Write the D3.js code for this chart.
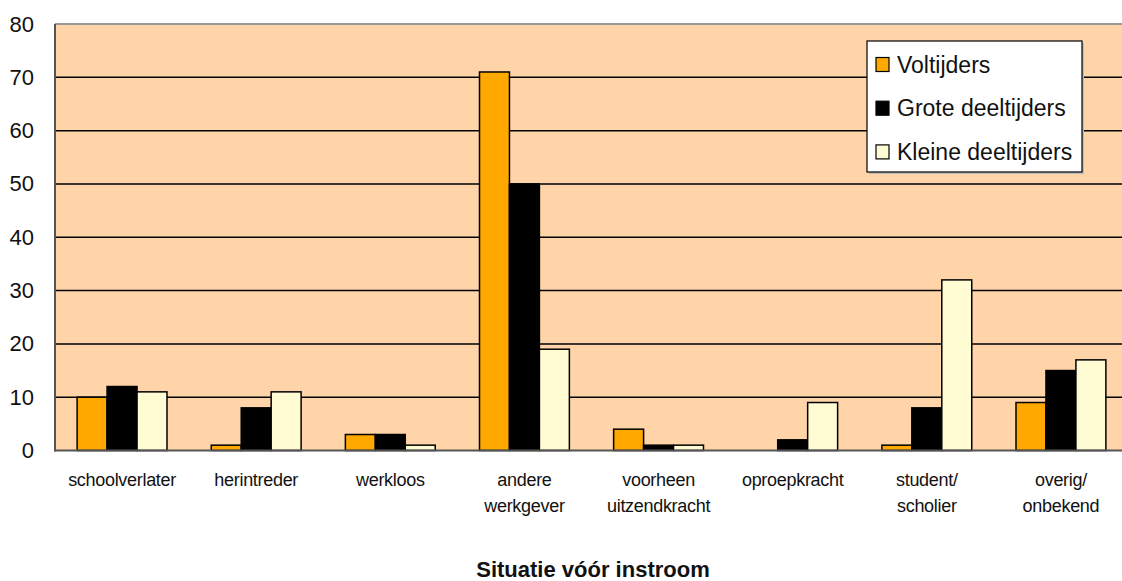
<!DOCTYPE html>
<html>
<head>
<meta charset="utf-8">
<title>Situatie vóór instroom</title>
<style>
  body { margin: 0; background: #fff; }
  text { font-family: "Liberation Sans", Arial, sans-serif; fill: #111; }
  .tick text { font-size: 22px; }
  .cat { font-size: 18px; letter-spacing: -0.3px; }
  .legend text { font-size: 23px; }
  .title { font-size: 22px; font-weight: bold; }
</style>
</head>
<body>
<svg width="1122" height="581"></svg>
<script src="https://cdnjs.cloudflare.com/ajax/libs/d3/7.8.5/d3.min.js"></script>
<script>
var categories = [
  ['schoolverlater'],
  ['herintreder'],
  ['werkloos'],
  ['andere', 'werkgever'],
  ['voorheen', 'uitzendkracht'],
  ['oproepkracht'],
  ['student/', 'scholier'],
  ['overig/', 'onbekend']
];
var seriesNames = ['Voltijders', 'Grote deeltijders', 'Kleine deeltijders'];
var seriesColors = ['#ffa800', '#000000', '#fffcd4'];
var voltijders = [10, 1, 3, 71, 4, 0, 1, 9];
var groteDeeltijders = [12, 8, 3, 50, 1, 2, 8, 15];
var kleineDeeltijders = [11, 11, 1, 19, 1, 9, 32, 17];
var yTicks = [0, 10, 20, 30, 40, 50, 60, 70, 80];
var xTitle = 'Situatie vóór instroom';

var series = [voltijders, groteDeeltijders, kleineDeeltijders];

var svg = d3.select('svg');
var plotLeft = 55, plotRight = 1128, plotTop = 24, plotBottom = 450.5;

var x0 = d3.scaleBand()
  .domain(d3.range(categories.length))
  .range([plotLeft, plotRight])
  .paddingInner(0.33)
  .paddingOuter(0.165);
var x1 = d3.scaleBand()
  .domain(d3.range(series.length))
  .range([0, x0.bandwidth()]);
var y = d3.scaleLinear().domain([0, 80]).range([plotBottom, plotTop]);

// plot background
svg.append('rect')
  .attr('x', plotLeft).attr('y', plotTop)
  .attr('width', plotRight - plotLeft).attr('height', plotBottom - plotTop)
  .attr('fill', '#ffd4a8');

// gridlines
svg.append('g')
  .selectAll('line')
  .data(yTicks.filter(function(d) { return d > 0 && d < 80; }))
  .join('line')
    .attr('x1', plotLeft).attr('x2', plotRight)
    .attr('y1', function(d) { return y(d); })
    .attr('y2', function(d) { return y(d); })
    .attr('stroke', '#000')
    .attr('stroke-width', 1.5);

// top border
svg.append('line')
  .attr('x1', plotLeft).attr('x2', plotRight)
  .attr('y1', plotTop).attr('y2', plotTop)
  .attr('stroke', '#999').attr('stroke-width', 2);

// bars
var groups = svg.append('g')
  .selectAll('g')
  .data(categories.map(function(c, i) { return i; }))
  .join('g')
    .attr('transform', function(i) { return 'translate(' + x0(i) + ',0)'; });

groups.selectAll('rect')
  .data(function(i) { return series.map(function(s, k) { return { k: k, v: s[i] }; }); })
  .join('rect')
    .attr('x', function(d) { return x1(d.k); })
    .attr('y', function(d) { return y(d.v); })
    .attr('width', x1.bandwidth())
    .attr('height', function(d) { return plotBottom - y(d.v); })
    .attr('fill', function(d) { return seriesColors[d.k]; })
    .attr('stroke', '#000')
    .attr('stroke-width', function(d) { return d.v > 0 ? 1.5 : 0; });

// axes lines
svg.append('line')
  .attr('x1', plotLeft).attr('x2', plotRight)
  .attr('y1', plotBottom).attr('y2', plotBottom)
  .attr('stroke', '#555').attr('stroke-width', 2);
svg.append('line')
  .attr('x1', plotLeft).attr('x2', plotLeft)
  .attr('y1', plotTop).attr('y2', plotBottom + 1)
  .attr('stroke', '#555').attr('stroke-width', 2);

// y axis labels
var yAxis = svg.append('g')
  .attr('transform', 'translate(' + plotLeft + ',0)')
  .call(d3.axisLeft(y).tickValues(yTicks).tickSize(0).tickPadding(21));
yAxis.select('.domain').remove();
yAxis.selectAll('text').attr('fill', '#111');

// category labels
var cat = svg.append('g')
  .selectAll('text')
  .data(categories)
  .join('text')
    .attr('class', 'cat')
    .attr('text-anchor', 'middle')
    .attr('x', function(d, i) { return x0(i) + x0.bandwidth() / 2; })
    .attr('y', 486);
cat.selectAll('tspan')
  .data(function(d) { return d; })
  .join('tspan')
    .attr('x', function() { return d3.select(this.parentNode).attr('x'); })
    .attr('dy', function(d, i) { return i === 0 ? 0 : 26; })
    .text(function(d) { return d; });

// x title
svg.append('text')
  .attr('class', 'title')
  .attr('text-anchor', 'middle')
  .attr('x', 593)
  .attr('y', 577)
  .text(xTitle);

// legend
var legend = svg.append('g').attr('class', 'legend');
legend.append('rect')
  .attr('x', 869).attr('y', 43)
  .attr('width', 215).attr('height', 131)
  .attr('fill', '#bbb');
legend.append('rect')
  .attr('x', 867).attr('y', 41)
  .attr('width', 215).attr('height', 131)
  .attr('fill', '#fff')
  .attr('stroke', '#000')
  .attr('stroke-width', 1.2);
var items = legend.selectAll('g.item')
  .data(seriesNames)
  .join('g')
    .attr('class', 'item')
    .attr('transform', function(d, i) { return 'translate(876,' + (64.5 + i * 43.7) + ')'; });
items.append('rect')
  .attr('x', 0).attr('y', -7)
  .attr('width', 13).attr('height', 14)
  .attr('fill', function(d, i) { return seriesColors[i]; })
  .attr('stroke', '#000')
  .attr('stroke-width', 1.2);
items.append('text')
  .attr('x', 21)
  .attr('y', 8)
  .text(function(d) { return d; });
</script>
</body>
</html>
